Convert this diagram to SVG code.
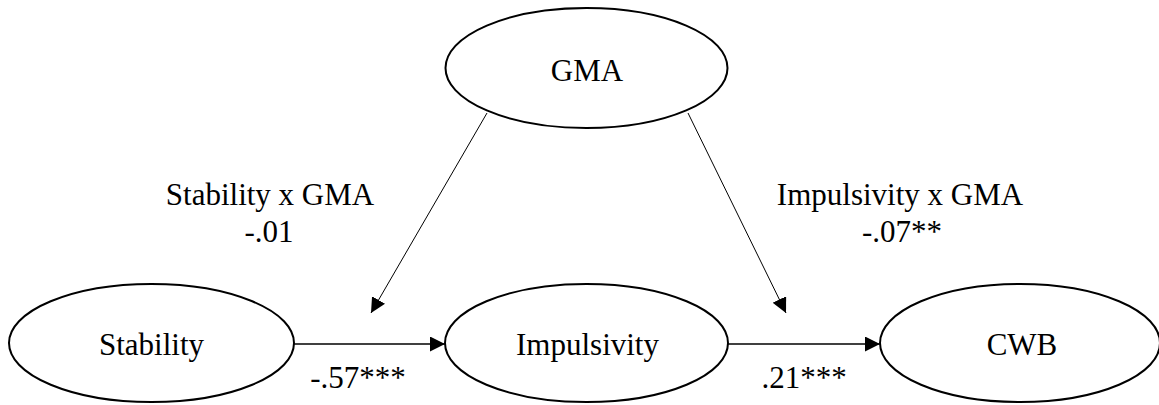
<svg xmlns="http://www.w3.org/2000/svg" width="1159" height="405" viewBox="0 0 1159 405">
<style>
.node ellipse{fill:#fff;stroke:#000;stroke-width:2}
.t{font-family:'Liberation Serif','Times New Roman',serif;font-size:31px;fill:#000;text-anchor:middle}
.edge{stroke:#000;fill:none}
</style>
<defs>
<marker id="arr" markerUnits="userSpaceOnUse" markerWidth="16" markerHeight="16" refX="15" refY="7.5" orient="auto" viewBox="0 0 16 16">
<path d="M0,0 L15,7.5 L0,15 z" fill="#000"/>
</marker>
</defs>
<rect width="1159" height="405" fill="#fff"/>
<g id="connectors">
<line class="edge" x1="294" y1="344" x2="445" y2="344" stroke-width="1.3" marker-end="url(#arr)"/>
<line class="edge" x1="728" y1="344" x2="880" y2="344" stroke-width="1.3" marker-end="url(#arr)"/>
<line class="edge" x1="487" y1="113" x2="371" y2="313" stroke-width="1" marker-end="url(#arr)"/>
<line class="edge" x1="688" y1="113" x2="786" y2="313" stroke-width="1" marker-end="url(#arr)"/>
</g>
<g id="node-gma" class="node">
<ellipse cx="586.5" cy="68" rx="141" ry="60"/>
<text class="t" x="587" y="81">GMA</text>
</g>
<g id="node-stability" class="node">
<ellipse cx="151.5" cy="343" rx="142.5" ry="59"/>
<text class="t" x="151.5" y="355">Stability</text>
</g>
<g id="node-impulsivity" class="node">
<ellipse cx="586.5" cy="343" rx="141.5" ry="59"/>
<text class="t" x="587.5" y="355">Impulsivity</text>
</g>
<g id="node-cwb" class="node">
<ellipse cx="1020" cy="343" rx="140" ry="59"/>
<text class="t" x="1022" y="355">CWB</text>
</g>
<g id="labels">
<text class="t" x="270" y="205">Stability x GMA</text>
<text class="t" x="269" y="242">-.01</text>
<text class="t" x="900" y="205">Impulsivity x GMA</text>
<text class="t" x="902" y="242">-.07**</text>
<text class="t" x="358" y="388">-.57***</text>
<text class="t" x="804" y="388">.21***</text>
</g>
</svg>
